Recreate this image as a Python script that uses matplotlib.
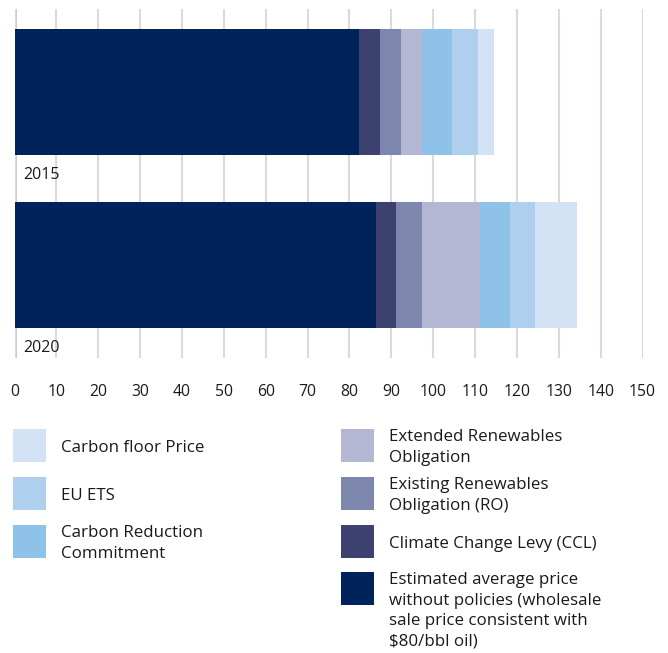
import matplotlib
matplotlib.use("Agg")
import matplotlib.pyplot as plt
from matplotlib.patches import Rectangle

plt.rcParams['font.family'] = ['Open Sans', 'DejaVu Sans']

years = ["2015", "2020"]
components = [
    "Estimated average price\nwithout policies (wholesale\nsale price consistent with\n$80/bbl oil)",
    "Climate Change Levy (CCL)",
    "Existing Renewables\nObligation (RO)",
    "Extended Renewables\nObligation",
    "Carbon Reduction\nCommitment",
    "EU ETS",
    "Carbon floor Price",
]
values_2015 = [82.3, 5.1, 4.8, 5.1, 7.2, 6.1, 4.0]
values_2020 = [86.3, 4.8, 6.2, 13.8, 7.2, 6.0, 10.0]
colors = ["#00235B", "#3C4170", "#7D87AE", "#B3B7D3", "#8FC2E8", "#AED0EE", "#D3E3F5"]
xticks = list(range(0, 151, 10))

W, H = 668, 653
fig = plt.figure(figsize=(W / 100, H / 100), dpi=100)
ax = fig.add_axes([14.5 / W, 1 - 358 / H, 628 / W, 349 / H])

data = [values_2015, values_2020]
ypos = [0, 1]
bar_h = 0.728
for yi, vals in zip(ypos, data):
    left = 0
    for v, c in zip(vals, colors):
        ax.barh(yi, v, left=left, height=bar_h, color=c, edgecolor='none', zorder=3)
        left += v
    ax.text(2.2, yi + 0.478, years[yi], ha='left', va='center', fontsize=11.5, color='#1a1a1a', zorder=4)

ax.set_xlim(0, 150)
ax.set_ylim(1.538, -0.48)
ax.set_xticks(xticks)
ax.set_xticklabels([str(t) for t in xticks], fontsize=11.3, color='#1a1a1a')
ax.set_yticks([])
ax.tick_params(axis='x', length=0, pad=19)
ax.grid(axis='x', color='#dadada', linewidth=1.5, zorder=0)
ax.axvline(0, color='#c6c6c6', linewidth=2, zorder=1)
for s in ax.spines.values():
    s.set_visible(False)

# legend (manual, two columns)
def px2fig(x, y):
    return x / W, 1 - y / H

left_items = [6, 5, 4]
right_items = [3, 2, 1, 0]
left_tops = [429, 477, 525]
right_tops = [429, 477, 525, 572]
sq = 33
FS = 12.2
LS = 1.38

def draw_item(idx, sx, tx, top):
    fx, fy = px2fig(sx, top + sq)
    fig.patches.append(Rectangle((fx, fy), sq / W, sq / H, transform=fig.transFigure,
                                 facecolor=colors[idx], edgecolor='none'))
    label = components[idx]
    nlines = label.count("\n") + 1
    if nlines <= 2:
        _, cy = px2fig(tx, top + sq / 2 + 2)
        fig.text(tx / W, cy, label, ha='left', va='center', fontsize=FS,
                 color='#1a1a1a', linespacing=LS)
    else:
        _, ty = px2fig(tx, top)
        fig.text(tx / W, ty, label, ha='left', va='top', fontsize=FS,
                 color='#1a1a1a', linespacing=LS)

for idx, top in zip(left_items, left_tops):
    draw_item(idx, 13, 61, top)
for idx, top in zip(right_items, right_tops):
    draw_item(idx, 341, 389, top)

fig.savefig("out.png", dpi=100)
